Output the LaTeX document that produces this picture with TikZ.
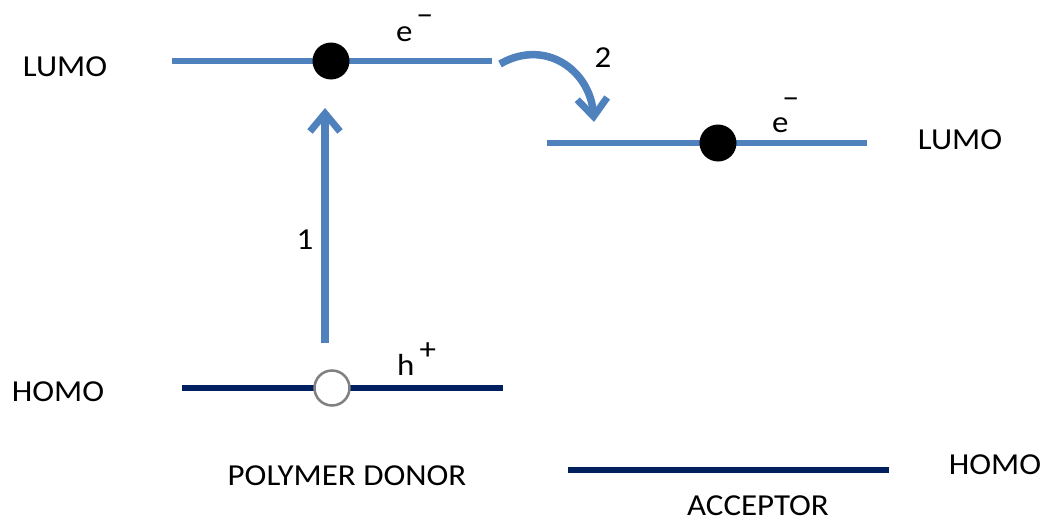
\documentclass[tikz,border=0pt]{standalone}
\usepackage{fontspec}
\setmainfont{Carlito}[FakeStretch=1.08]
\usetikzlibrary{arrows.meta}
\definecolor{lblue}{RGB}{79,129,189}
\definecolor{navy}{RGB}{0,32,96}
\definecolor{holegray}{RGB}{128,128,128}
\tikzset{
  lumoline/.style={draw=lblue, line width=6pt},
  homoline/.style={draw=navy, line width=6pt},
  electron/.style={circle, fill=black, minimum size=37pt, inner sep=0pt},
  hole/.style={circle, fill=white, draw=holegray, line width=2.5pt, minimum size=35pt, inner sep=0pt},
  lbl/.style={inner sep=0pt, font=\fontsize{30.5pt}{34pt}\selectfont},
  transfer/.style={draw=lblue, line width=7.5pt, -{Straight Barb[length=18pt, width=30pt, line width=7pt]}},
}
\begin{document}
\begin{tikzpicture}[x=1pt, y=-1pt]
\useasboundingbox (0,0) rectangle (1047,522);
% levels
\coordinate (dl1) at (172,61);  \coordinate (dl2) at (492,61);
\coordinate (al1) at (547,143); \coordinate (al2) at (867,143);
\coordinate (dh1) at (182,388); \coordinate (dh2) at (503,388);
\coordinate (ah1) at (568,470); \coordinate (ah2) at (889,470);
\draw[lumoline] (dl1) -- (dl2);
\draw[lumoline] (al1) -- (al2);
\draw[homoline] (dh1) -- (dh2);
\draw[homoline] (ah1) -- (ah2);
% particles
\node[electron] (de) at (331,61) {};
\node[electron] (ae) at (718,143) {};
\node[hole] (dhole) at (332,388) {};
% arrows
\coordinate (a1s) at (325,343);
\coordinate (a1e) at (325,108);
\draw[transfer] (a1s) -- (a1e);
\coordinate (a2s) at (500,64);
\coordinate (a2e) at (594,122);
\draw[transfer] (a2s) .. controls (545,38) and (590,70) .. (a2e);
% labels
\node[lbl] (lumoL) at (65,67) {LUMO};
\node[lbl] (lumoR) at (960,140) {LUMO};
\node[lbl] (homoL) at (58,392) {HOMO};
\node[lbl] (homoR) at (995,465) {HOMO};
\node[lbl] (donor) at (347,476) {POLYMER DONOR};
\node[lbl] (acc) at (758,506) {ACCEPTOR};
\node[lbl] (one) at (305,240) {1};
\node[lbl] (two) at (603,58) {2};
\node[lbl, anchor=base west] (eD) at (396,41) {e\kern4pt\raisebox{16pt}{−}};
\node[lbl, anchor=base west] (eA) at (772,132) {e\kern-6pt\raisebox{24pt}{−}};
\node[lbl, anchor=base west] (hD) at (397,375) {h\kern5pt\raisebox{16pt}{+}};
\end{tikzpicture}
\end{document}
